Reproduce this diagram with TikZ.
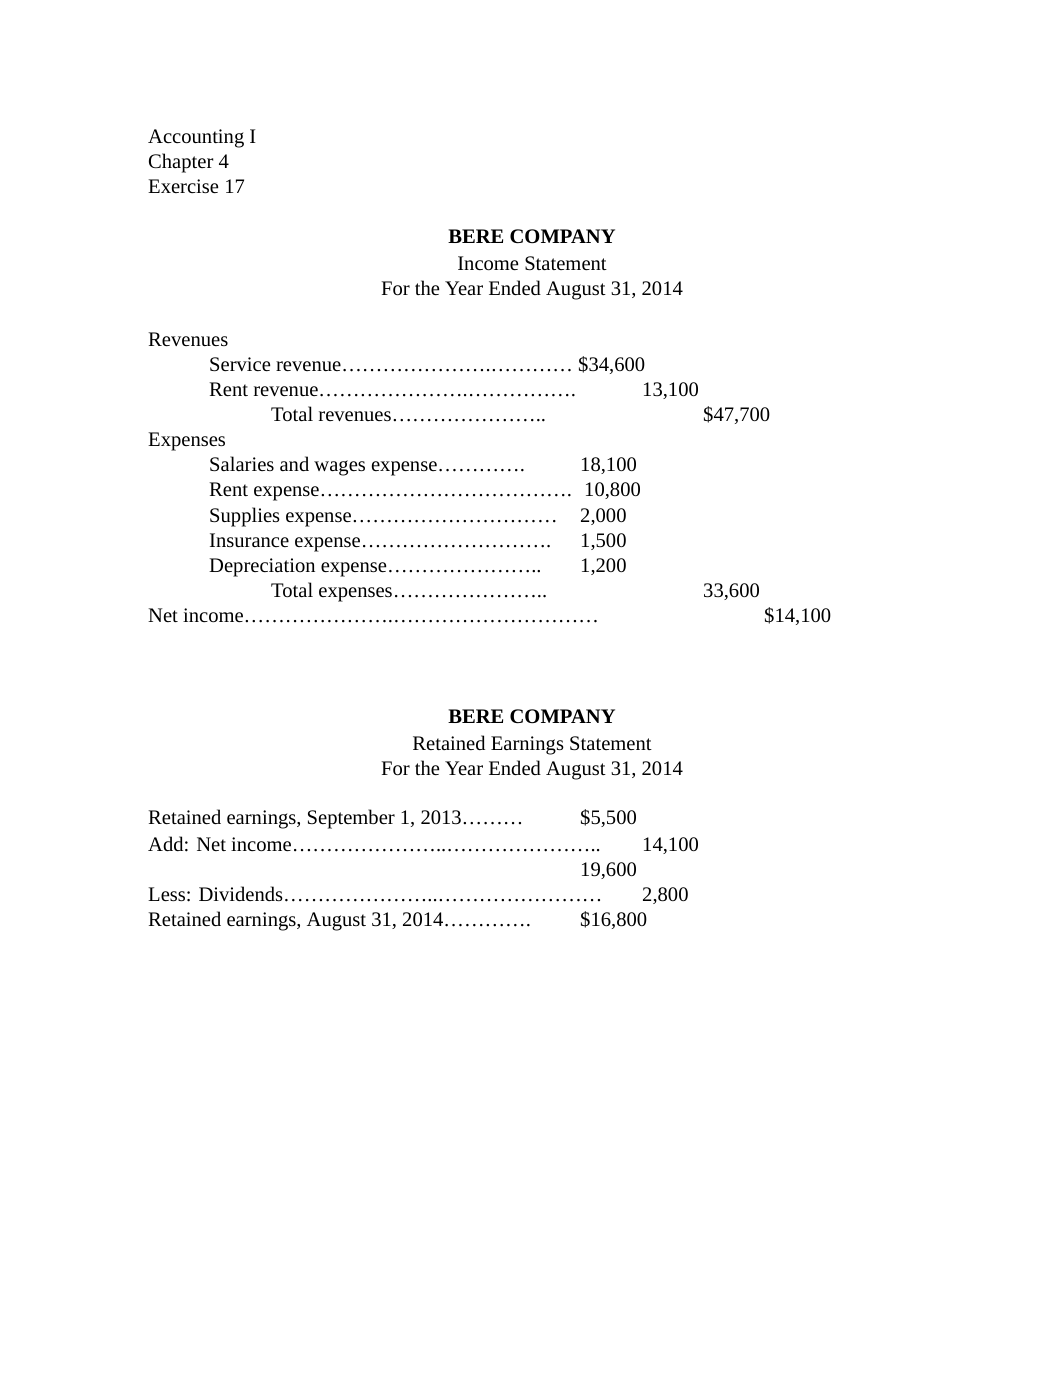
\documentclass[tikz,border=0pt]{standalone}
\usepackage{fontspec}
\setmainfont{Liberation Serif}
\newcommand\ellrep[1]{\ifnum#1>0 …\expandafter\ellrep\expandafter{\number\numexpr#1-1\relax}\fi}
\begin{document}
\begin{tikzpicture}[x=1pt,y=-1pt,
  txt/.style={anchor=base west,inner sep=0pt,font=\fontsize{20.6}{25}\selectfont},
  ctr/.style={anchor=base,inner sep=0pt,font=\fontsize{20.6}{25}\selectfont},
  bld/.style={anchor=base,inner sep=0pt,font=\fontsize{20.6}{25}\selectfont\bfseries}]
\useasboundingbox[fill=white] (0,0) rectangle (1062,1377);
% header
\node[txt] (h1) at (148,143) {Accounting I};
\node[txt] (h2) at (148,168) {Chapter 4};
\node[txt] (h3) at (148,193) {Exercise 17};
% income statement title
\node[bld] (t1) at (532,243) {BERE COMPANY};
\node[ctr] (t2) at (532,270) {Income Statement};
\node[ctr] (t3) at (532,295) {For the Year Ended August 31, 2014};
% revenues
\node[txt] (rev) at (148,346) {Revenues};
\node[txt] (sr) at (209,371) {Service revenue\ellrep{7}.\ellrep{4}};
\node[txt] (srv) at (578,371) {\$34,600};
\node[txt] (rr) at (209,396) {Rent revenue\ellrep{7}.\ellrep{5}.};
\node[txt] (rrv) at (642,396) {13,100};
\node[txt] (tr) at (271,421) {Total revenues\ellrep{7}..};
\node[txt] (trv) at (703,421) {\$47,700};
% expenses
\node[txt] (exp) at (148,446) {Expenses};
\node[txt] (e1) at (209,471) {Salaries and wages expense\ellrep{4}.};
\node[txt] (e1v) at (580,471) {18,100};
\node[txt] (e2) at (209,496) {Rent expense\ellrep{12}.};
\node[txt] (e2v) at (584,496) {10,800};
\node[txt] (e3) at (209,522) {Supplies expense\ellrep{10}};
\node[txt] (e3v) at (580,522) {2,000};
\node[txt] (e4) at (209,547) {Insurance expense\ellrep{9}.};
\node[txt] (e4v) at (580,547) {1,500};
\node[txt] (e5) at (209,572) {Depreciation expense\ellrep{7}..};
\node[txt] (e5v) at (580,572) {1,200};
\node[txt] (te) at (271,597) {Total expenses\ellrep{7}..};
\node[txt] (tev) at (703,597) {33,600};
\node[txt] (ni) at (148,622) {Net income\ellrep{7}.\ellrep{10}};
\node[txt] (niv) at (764,622) {\$14,100};
% retained earnings statement title
\node[bld] (u1) at (532,723) {BERE COMPANY};
\node[ctr] (u2) at (532,750) {Retained Earnings Statement};
\node[ctr] (u3) at (532,775) {For the Year Ended August 31, 2014};
% retained earnings
\node[txt] (r1) at (148,824) {Retained earnings, September 1, 2013\ellrep{3}};
\node[txt] (r1v) at (580,824) {\$5,500};
\node[txt] (r2) at (148,851) {Add: Net income\ellrep{7}..\ellrep{7}..};
\node[txt] (r2v) at (642,851) {14,100};
\node[txt] (r3v) at (580,876) {19,600};
\node[txt] (r4) at (148,901) {Less: Dividends\ellrep{7}..\ellrep{8}};
\node[txt] (r4v) at (642,901) {2,800};
\node[txt] (r5) at (148,926) {Retained earnings, August 31, 2014\ellrep{4}.};
\node[txt] (r5v) at (580,926) {\$16,800};
\end{tikzpicture}
\end{document}
